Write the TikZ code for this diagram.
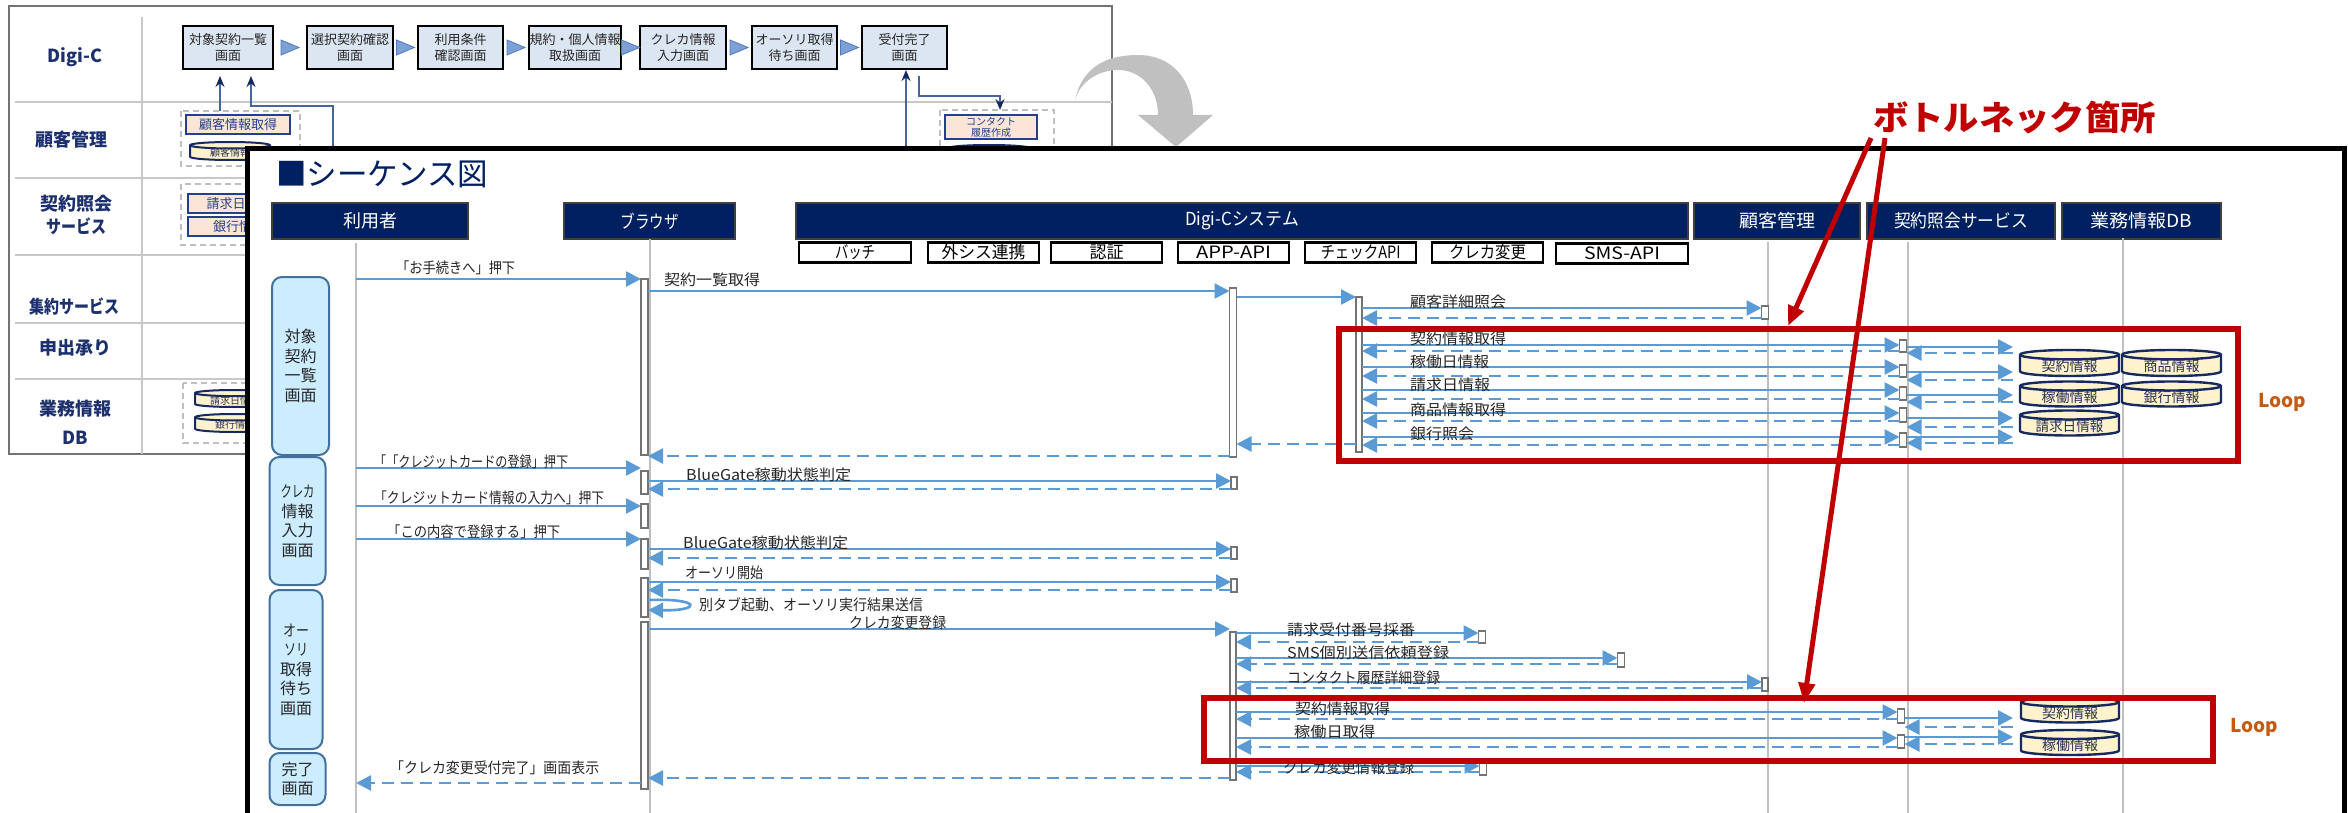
\documentclass[tikz,border=0pt]{standalone}
\usepackage{fontspec}
\usepackage{graphicx}
\setmainfont{Noto Sans CJK JP}
\usetikzlibrary{arrows.meta}

\definecolor{seqblue}{RGB}{91,155,213}
\definecolor{hdrnavy}{RGB}{0,32,96}
\definecolor{lblnavy}{RGB}{28,48,110}
\definecolor{scrfill}{RGB}{220,230,242}
\definecolor{trifill}{RGB}{125,160,215}
\definecolor{triedge}{RGB}{79,120,189}
\definecolor{pinkfill}{RGB}{251,229,214}
\definecolor{pinkedge}{RGB}{36,64,140}
\definecolor{cylfill}{RGB}{255,242,204}
\definecolor{cylline}{RGB}{22,42,96}
\definecolor{cyltext}{RGB}{40,50,80}
\definecolor{phasefill}{RGB}{204,236,255}
\definecolor{phaseline}{RGB}{65,113,156}
\definecolor{loopred}{RGB}{192,0,0}
\definecolor{looporange}{RGB}{197,90,17}
\definecolor{lifegray}{RGB}{191,191,191}
\definecolor{turngray}{RGB}{192,192,192}
\definecolor{bgline}{RGB}{200,200,200}
\definecolor{bgconn}{RGB}{70,100,160}
\definecolor{bgtip}{RGB}{20,40,100}
\definecolor{inktext}{RGB}{38,38,38}

% activation bar: name, x centre, y top, y bottom, width
\newcommand\actbar[5]{%
  \pgfmathsetmacro\abH{#4-#3}%
  \pgfmathsetmacro\abC{(#3+#4)/2}%
  \node[actbox, minimum width=#5pt, minimum height=\abH pt] (#1) at (#2,\abC) {};%
}
% database drum: [style], name, x centre, y centre, width, height, label
\newcommand\drum[7][]{%
  \pgfmathsetmacro\drL{#3-#5/2}%
  \pgfmathsetmacro\drR{#3+#5/2}%
  \pgfmathsetmacro\drRY{#6*0.18}%
  \pgfmathsetmacro\drT{#4-#6/2+\drRY}%
  \pgfmathsetmacro\drB{#4+#6/2-\drRY}%
  \pgfmathsetmacro\drX{#5/2}%
  \filldraw[drumst,#1] (\drL,\drT) -- (\drL,\drB)
     arc[start angle=180,end angle=360,x radius=\drX pt,y radius=\drRY pt]
     -- (\drR,\drT)
     arc[start angle=0,end angle=180,x radius=\drX pt,y radius=\drRY pt] -- cycle;
  \draw[drumst,#1,fill=none] (\drL,\drT)
     arc[start angle=180,end angle=360,x radius=\drX pt,y radius=\drRY pt];
  \node[drumtxt] (#2) at (#3,#4+#6*0.12) {#7};%
}
% message label: name, x left, y centre, width, text
\newcommand\mlab[5]{%
  \node[mlbl] (#1) at (#2,#3) {\resizebox{#4pt}{\height}{#5}};%
}

\tikzset{
  bgframe/.style={draw=black!55, line width=2pt},
  bgrow/.style={draw=bgline, line width=1.8pt},
  rowlbl/.style={font=\fontsize{18}{23}\selectfont\bfseries, text=lblnavy, align=center, inner sep=0pt},
  scr/.style={draw=black, line width=2pt, fill=scrfill, font=\fontsize{13}{16}\selectfont,
    align=center, text=black!85, inner sep=0pt, minimum height=43pt},
  scrtri/.style={fill=trifill, draw=triedge, line width=0.8pt},
  dbox/.style={draw=black!25, dash pattern=on 6pt off 4pt, line width=1.8pt},
  pinkbox/.style={draw=pinkedge, line width=2.2pt, fill=pinkfill, font=\fontsize{13}{15}\selectfont,
    text=pinkedge, align=center, inner sep=0pt},
  bgarr/.style={draw=bgconn, line width=1.5pt, -{Stealth[length=11pt,width=9pt,color=bgtip]}},
  hdr/.style={fill=hdrnavy, draw=black!75, line width=1.5pt, text=white,
    font=\fontsize{18}{20}\selectfont, minimum height=36pt, inner sep=0pt},
  subbox/.style={draw=black, line width=2.5pt, fill=white, font=\fontsize{17}{18}\selectfont,
    minimum height=20pt, inner sep=0pt},
  life/.style={draw=lifegray, line width=1.2pt},
  actbox/.style={draw=black!55, fill=white, line width=1.3pt, inner sep=0pt, outer sep=0pt},
  msg/.style={draw=seqblue, line width=2.6pt, -{Triangle[length=15pt,width=15pt]}},
  rmsg/.style={msg, dash pattern=on 12pt off 7pt},
  mlbl/.style={font=\fontsize{15}{16}\selectfont, text=inktext, anchor=west, inner sep=0pt},
  phase/.style={draw=phaseline, fill=phasefill, line width=2pt, rounded corners=10pt,
    font=\fontsize{16}{19.5}\selectfont, align=center, text=inktext, inner sep=0pt},
  loopbox/.style={draw=loopred, line width=6pt},
  looptxt/.style={text=looporange, font=\fontsize{19}{20}\selectfont\bfseries, inner sep=0pt},
  drumst/.style={fill=cylfill, draw=cylline, line width=2.4pt},
  drumtxt/.style={font=\fontsize{14}{15}\selectfont, text=cyltext, inner sep=0pt},
  hot/.style={draw=loopred, line width=5pt, -{Triangle[length=20pt,width=16pt]}},
}

\begin{document}
\begin{tikzpicture}[x=1pt,y=-1pt]
\path[use as bounding box] (0,0) rectangle (2348,813);
\clip (0,0) rectangle (2348,813);
\fill[white] (0,0) rectangle (2348,813);

% ================= screen-flow slide behind =================
\draw[bgframe] (9,6) rectangle (1112,454);
\draw[bgrow] (142,17) -- (142,454);
\foreach \yy in {102,178,255,323,379} \draw[bgrow] (15,\yy) -- (1112,\yy);

\node[rowlbl] (rDigi) at (75,57) {Digi-C};
\node[rowlbl] (rKoky) at (71,140) {顧客管理};
\node[rowlbl] (rShok) at (76,215) {契約照会\\\resizebox{60pt}{\height}{サービス}};
\node[rowlbl] (rShuy) at (74,306) {\resizebox{90pt}{\height}{集約サービス}};
\node[rowlbl] (rMosh) at (75,348) {申出承り};
\node[rowlbl] (rGyom) at (75,422) {業務情報\\[6pt]DB};

\node[scr, minimum width=90pt] (s1) at (228,47.5) {対象契約一覧\\画面};
\node[scr, minimum width=86pt] (s2) at (350,47.5) {選択契約確認\\画面};
\node[scr, minimum width=85pt] (s3) at (460.5,47.5) {利用条件\\確認画面};
\node[scr, minimum width=92pt] (s4) at (575,47.5) {規約・個人情報\\取扱画面};
\node[scr, minimum width=86pt] (s5) at (683,47.5) {クレカ情報\\入力画面};
\node[scr, minimum width=85pt] (s6) at (794.5,47.5) {オーソリ取得\\待ち画面};
\node[scr, minimum width=85pt] (s7) at (904.5,47.5) {受付完了\\画面};
\foreach \a/\b in {s1/s2,s2/s3,s3/s4,s4/s5,s5/s6,s6/s7}{
  \path (\a.east) -- (\b.west) coordinate[midway] (t\a);
  \filldraw[scrtri] (t\a) ++(-9,-7.5) -- ++(18,7.5) -- ++(-18,7.5) -- cycle;
}

% customer management group
\draw[dbox] (181,111) rectangle (300,166);
\node[pinkbox, minimum width=104pt, minimum height=19pt] (pK) at (238,124.5) {顧客情報取得};
\drum[line width=2pt]{dbgK}{230}{151}{80}{18}{\fontsize{10}{11}\selectfont 顧客情報}
% contract inquiry group
\draw[dbox] (181,184) rectangle (300,245);
\node[pinkbox, minimum width=102pt, minimum height=19pt] (pS1) at (239,203.5) {請求日情報};
\node[pinkbox, minimum width=102pt, minimum height=19pt] (pS2) at (239,226.5) {銀行情報};
% business DB group
\draw[dbox] (183,383) rectangle (300,443);
\drum[line width=2pt]{dbgG1}{235}{398.5}{80}{17}{\fontsize{10}{11}\selectfont 請求日情報}
\drum[line width=2pt]{dbgG2}{235}{423}{80}{18}{\fontsize{10}{11}\selectfont 銀行情報}
% contact history group
\draw[dbox] (940,110) rectangle (1054,200);
\node[pinkbox, minimum width=92pt, minimum height=24pt, font=\fontsize{10}{11}\selectfont] (pC) at (991,127) {コンタクト\\履歴作成};
\drum[line width=2pt]{dbgC}{989}{154}{82}{18}{\fontsize{10}{11}\selectfont コンタクト履歴}

% connectors of the flow slide
\coordinate (kA) at (220,111);
\coordinate (kB) at (333,150);
\coordinate (kC) at (906,150);
\coordinate (kD) at (919,76);
\draw[bgarr] (kA) -- (kA |- 0,76);
\draw[bgarr] (kB) -- (333,106) -- (251,106) -- (251,76);
\draw[bgarr] (kC) -- (kC |- s7.south);
\draw[bgarr] (kD) -- (919,96) -- (1000,96) -- (1000,110);

% turn-over arrow
\fill[turngray] (1075,100) .. controls (1082,68) and (1105,55) .. (1138,55)
  .. controls (1172,55) and (1193,80) .. (1193,115) -- (1213,115) -- (1176,147)
  -- (1138,115) -- (1158,115) .. controls (1158,88) and (1140,70) .. (1118,70)
  .. controls (1098,70) and (1080,82) .. (1075,100) -- cycle;

% ================= sequence diagram =================
\draw[line width=5pt, fill=white] (247,149) rectangle (2344,860);
\node[anchor=west, inner sep=0pt, text=hdrnavy, font=\fontsize{31}{32}\selectfont] (title) at (276,174)
  {\resizebox{212pt}{\height}{■シーケンス図}};

% lifeline heads
\node[hdr, minimum width=196pt] (hU) at (370,221) {利用者};
\node[hdr, minimum width=171pt] (hB) at (649.5,221) {\resizebox{58pt}{\height}{ブラウザ}};
\node[hdr, minimum width=892pt] (hD) at (1242,221) {\resizebox{114pt}{\height}{Digi-Cシステム}};
\node[hdr, minimum width=166pt] (hK) at (1777,221) {\resizebox{76pt}{\height}{顧客管理}};
\node[hdr, minimum width=188pt] (hS) at (1961,221) {\resizebox{134pt}{\height}{契約照会サービス}};
\node[hdr, minimum width=159pt] (hG) at (2141.5,221) {\resizebox{102pt}{\height}{業務情報DB}};

\node[subbox, minimum width=112pt] (sb1) at (855,252.5) {\resizebox{40pt}{\height}{バッチ}};
\node[subbox, minimum width=111pt] (sb2) at (983.5,252.5) {\resizebox{84pt}{\height}{外シス連携}};
\node[subbox, minimum width=111pt] (sb3) at (1106.5,252.5) {\resizebox{34pt}{\height}{認証}};
\node[subbox, minimum width=111pt] (sb4) at (1233.5,252.5) {\resizebox{75pt}{\height}{APP-API}};
\node[subbox, minimum width=111pt] (sb5) at (1360.5,252.5) {\resizebox{80pt}{\height}{チェックAPI}};
\node[subbox, minimum width=111pt] (sb6) at (1487.5,252.5) {\resizebox{77pt}{\height}{クレカ変更}};
\node[subbox, minimum width=132pt] (sb7) at (1622,253.5) {\resizebox{76pt}{\height}{SMS-API}};

% lifelines
\coordinate (lU) at (356,243);
\coordinate (lB) at (650,239);
\coordinate (lK) at (1768,242);
\coordinate (lS) at (1908,242);
\coordinate (lG) at (2123,238);
\coordinate (dbIn) at (2013,340);
\foreach \l in {lU,lB,lK,lS,lG} \draw[life] (\l) -- (\l |- 0,813);

% screen phases
\node[phase, minimum width=57pt, minimum height=178pt] (ph1) at (300.5,366) {対象\\契約\\一覧\\画面};
\node[phase, minimum width=56pt, minimum height=128pt] (ph2) at (297.5,521) {\resizebox{34pt}{\height}{クレカ}\\情報\\入力\\画面};
\node[phase, minimum width=53pt, minimum height=159pt] (ph3) at (296,669.5) {\resizebox{26pt}{\height}{オー}\\\resizebox{24pt}{\height}{ソリ}\\取得\\待ち\\画面};
\node[phase, minimum width=56pt, minimum height=52pt] (ph4) at (297.5,779) {完了\\画面};

% activation bars
\actbar{bB1}{644.5}{279}{455}{7}
\actbar{bB2}{644.5}{471}{494}{7}
\actbar{bB3}{644.5}{504}{528}{7}
\actbar{bB4}{644.5}{539}{569}{7}
\actbar{bB5}{644.5}{578}{617}{7}
\actbar{bB6}{644.5}{622}{789}{7}
\actbar{bA1}{1233}{288}{457}{7}
\actbar{bA2}{1234}{477}{489}{6}
\actbar{bA3}{1234}{547}{559}{6}
\actbar{bA4}{1234}{579}{592}{6}
\actbar{bA5}{1233}{632}{780}{6}
\actbar{bC1}{1359}{297}{452}{6}
\actbar{bK1}{1765}{306}{319}{7}
\actbar{bK2}{1765}{678}{691}{6}
\actbar{bS1}{1903}{340}{352}{7}
\actbar{bS2}{1903}{365}{377}{7}
\actbar{bS3}{1903}{387}{400}{7}
\actbar{bS4}{1903}{408}{422}{7}
\actbar{bS5}{1903}{433}{447}{7}
\actbar{bS6}{1901}{709}{723}{7}
\actbar{bS7}{1901}{735}{748}{7}
\actbar{bX1}{1482}{631}{643}{7}
\actbar{bX2}{1621}{653}{667}{7}
\actbar{bX3}{1483}{763}{775}{7}

% contract list screen
\draw[msg] (lU |- 0,279) -- (bB1.west |- 0,279);
\draw[msg] (bB1.east |- 0,291) -- (bA1.west |- 0,291);
\draw[msg] (bA1.east |- 0,297) -- (bC1.west |- 0,297);
\draw[msg] (bC1.east |- 0,308) -- (bK1.west |- 0,308);
\draw[rmsg] (bK1.west |- 0,318) -- (bC1.east |- 0,318);
\foreach \b/\ya/\yr/\da/\dr in {bS1/345/351/347/353, bS2/367/376/372/380,
    bS3/390/399/395/402, bS4/413/421/418/427, bS5/437/445/437/443}{
  \draw[msg] (bC1.east |- 0,\ya) -- (\b.west |- 0,\ya);
  \draw[rmsg] (\b.west |- 0,\yr) -- (bC1.east |- 0,\yr);
  \draw[msg] (\b.east |- 0,\da) -- (dbIn |- 0,\da);
  \draw[rmsg] (dbIn |- 0,\dr) -- (\b.east |- 0,\dr);
}
\draw[rmsg] (bC1.west |- 0,444) -- (bA1.east |- 0,444);
\draw[rmsg] (bA1.west |- 0,456) -- (bB1.east |- 0,456);

% card input screen
\draw[msg] (lU |- 0,468) -- (bB2.west |- 0,468);
\draw[msg] (bB2.east |- 0,481) -- (bA2.west |- 0,481);
\draw[rmsg] (bA2.west |- 0,489) -- (bB2.east |- 0,489);
\draw[msg] (lU |- 0,506) -- (bB3.west |- 0,506);
\draw[msg] (lU |- 0,539) -- (bB4.west |- 0,539);
\draw[msg] (bB4.east |- 0,549) -- (bA3.west |- 0,549);
\draw[rmsg] (bA3.west |- 0,558) -- (bB4.east |- 0,558);

% authorisation waiting screen
\draw[msg] (bB5.east |- 0,582) -- (bA4.west |- 0,582);
\draw[rmsg] (bA4.west |- 0,590) -- (bB5.east |- 0,590);
\draw[msg] (bB5.east |- 0,600) .. controls (702,598) and (702,611) .. (bB5.east |- 0,610);
\draw[msg] (bB6.east |- 0,629) -- (bA5.west |- 0,629);
\draw[msg] (bA5.east |- 0,633) -- (bX1.west |- 0,633);
\draw[rmsg] (bX1.west |- 0,642) -- (bA5.east |- 0,642);
\draw[msg] (bA5.east |- 0,658) -- (bX2.west |- 0,658);
\draw[rmsg] (bX2.west |- 0,664) -- (bA5.east |- 0,664);
\draw[msg] (bA5.east |- 0,682) -- (bK2.west |- 0,682);
\draw[rmsg] (bK2.west |- 0,688) -- (bA5.east |- 0,688);
\draw[msg] (bA5.east |- 0,712) -- (bS6.west |- 0,712);
\draw[rmsg] (bS6.west |- 0,719) -- (bA5.east |- 0,719);
\draw[msg] (bS6.east |- 0,718) -- (dbIn |- 0,718);
\draw[rmsg] (dbIn |- 0,727) -- (bS6.east |- 0,727);
\draw[msg] (bA5.east |- 0,738) -- (bS7.west |- 0,738);
\draw[rmsg] (bS7.west |- 0,747) -- (bA5.east |- 0,747);
\draw[msg] (bS7.east |- 0,737) -- (dbIn |- 0,737);
\draw[rmsg] (dbIn |- 0,744) -- (bS7.east |- 0,744);
\draw[msg] (bA5.east |- 0,766) -- (bX3.west |- 0,766);
\draw[rmsg] (bX3.west |- 0,772) -- (bA5.east |- 0,772);
\draw[rmsg] (bA5.west |- 0,778) -- (bB6.east |- 0,778);
\draw[rmsg] (bB6.west |- 0,783) -- (lU |- 0,783);

% message labels
\mlab{m1}{396}{268}{119}{「お手続きへ」押下}
\mlab{m2}{664}{280}{96}{契約一覧取得}
\mlab{m3}{1410}{302}{96}{顧客詳細照会}
\mlab{m4}{1410}{339}{96}{契約情報取得}
\mlab{m5}{1410}{362}{79}{稼働日情報}
\mlab{m6}{1410}{385}{80}{請求日情報}
\mlab{m7}{1410}{410}{96}{商品情報取得}
\mlab{m8}{1410}{434}{64}{銀行照会}
\mlab{m9}{374}{462}{194}{「「クレジットカードの登録」押下}
\mlab{m10}{686}{475}{165}{BlueGate稼動状態判定}
\mlab{m11}{374}{498}{230}{「クレジットカード情報の入力へ」押下}
\mlab{m12}{387}{532}{173}{「この内容で登録する」押下}
\mlab{m13}{683}{543}{165}{BlueGate稼動状態判定}
\mlab{m14}{685}{573}{78}{オーソリ開始}
\mlab{m15}{699}{605}{224}{別タブ起動、オーソリ実行結果送信}
\mlab{m16}{849}{623}{97}{クレカ変更登録}
\mlab{m17}{1287}{630}{128}{請求受付番号採番}
\mlab{m18}{1287}{653}{162}{SMS個別送信依頼登録}
\mlab{m19}{1287}{678}{153}{コンタクト履歴詳細登録}
\mlab{m20}{1295}{709}{95}{契約情報取得}
\mlab{m21}{1294}{732}{81}{稼働日取得}
\mlab{m22}{1283}{768}{131}{クレカ変更情報登録}
\mlab{m23}{390}{768}{209}{「クレカ変更受付完了」画面表示}

% databases
\drum{dA}{2069.5}{363}{99}{26}{契約情報}
\drum{dB}{2171.5}{363}{99}{26}{商品情報}
\drum{dC}{2069.5}{394}{99}{25}{稼働情報}
\drum{dD}{2171.5}{394}{99}{25}{銀行情報}
\drum{dE}{2069.5}{423}{99}{25}{\resizebox{68pt}{\height}{請求日情報}}
\drum{dF}{2070}{710}{98}{25}{契約情報}
\drum{dG}{2070}{742.5}{98}{25}{稼働情報}

% loops
\draw[loopbox] (1339,329) rectangle (2238,461);
\node[looptxt] (lp1) at (2282,402) {Loop};
\draw[loopbox] (1204,698) rectangle (2213,761);
\node[looptxt] (lp2) at (2254,727) {Loop};

% bottleneck callout
\node[text=loopred, font=\fontsize{34}{36}\selectfont\bfseries, inner sep=0pt] (neck) at (2014.5,118)
  {\resizebox{283pt}{\height}{ボトルネック箇所}};
\coordinate (nA) at (1871,138);
\coordinate (nB) at (1885,138);
\coordinate (nA2) at (1788,326);
\coordinate (nB2) at (1804,703);
\draw[hot] (nA) -- (nA2);
\draw[hot] (nB) -- (nB2);
\end{tikzpicture}
\end{document}
